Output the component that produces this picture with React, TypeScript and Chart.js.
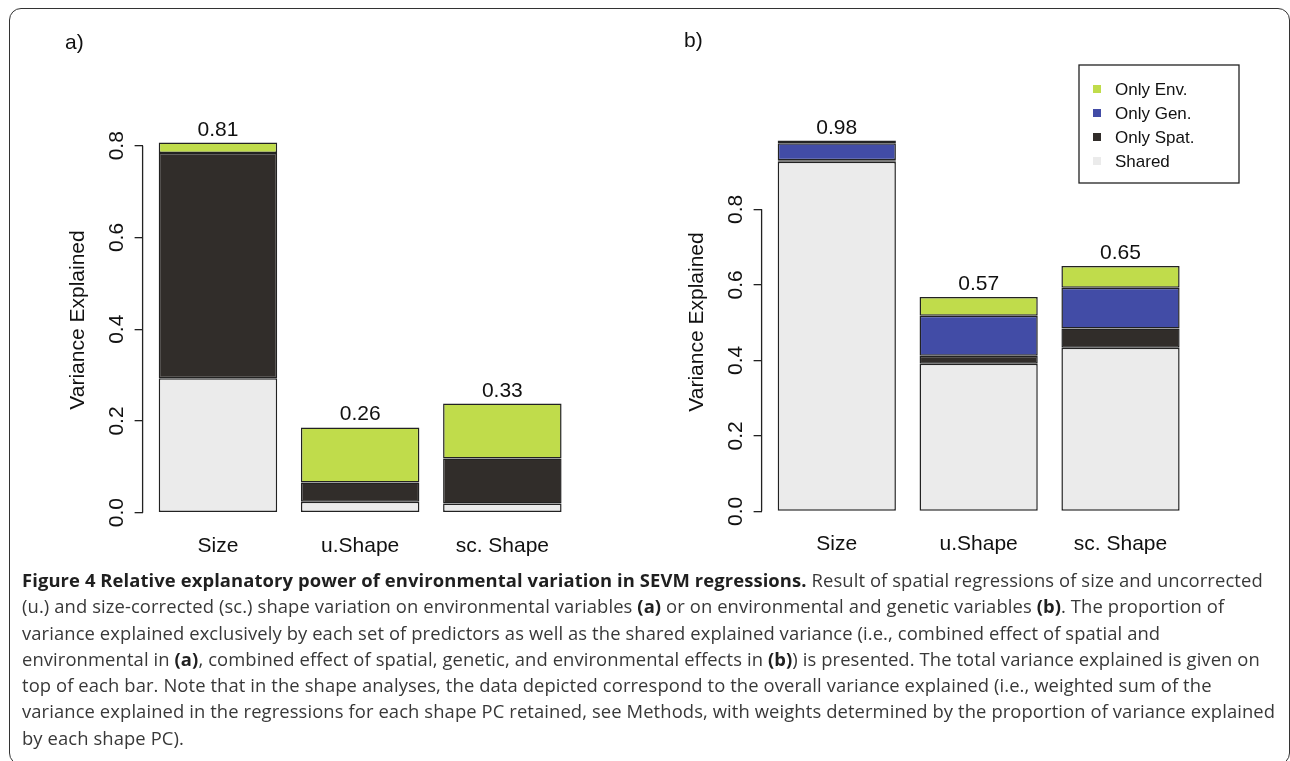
import React, { useEffect, useRef } from 'react';
import { Chart, registerables } from 'chart.js';

Chart.register(...registerables);

// ---------- data ----------
const categories = ['Size', 'u.Shape', 'sc. Shape'];
const yTickStep = 0.2;

// panel a) spatial + environmental
const sharedA = [0.293, 0.024, 0.02];
const spatA = [0.491, 0.042, 0.098];
const envA = [0.023, 0.12, 0.12];
const totalLabelsA = ['0.81', '0.26', '0.33'];

// panel b) spatial + genetic + environmental
const sharedB = [0.926, 0.391, 0.433];
const spatB = [0.004, 0.021, 0.051];
const genB = [0.045, 0.106, 0.108];
const envB = [0.007, 0.05, 0.058];
const totalLabelsB = ['0.98', '0.57', '0.65'];

const legendLabels = ['Only Env.', 'Only Gen.', 'Only Spat.', 'Shared'];

// ---------- style ----------
const C_ENV = '#c0dc4b';
const C_GEN = '#424ca6';
const C_SPAT = '#312d2a';
const C_SHARED = '#ebebeb';
const C_BORDER = '#222222';
const C_TEXT = '#111111';
const FONT = '"Liberation Sans", Arial, sans-serif';

// R barplot layout: bar width 1, space 0.2
const barPos = (i: number) => 0.7 + 1.2 * i;
const X_MIN = 0.2 - 0.136;
const X_MAX = 3.6 + 0.136;

const toPoints = (vals: number[]) => vals.map((v, i) => ({ x: barPos(i), y: v }));

type PanelOpts = {
  letter: string;
  letterX: number;
  letterY: number;
  totals: string[];
  titleY: number;
  legend?: { x: number; y: number; w: number; h: number; colors: string[] };
};

const makePanelPlugin = (o: PanelOpts) => ({
  id: 'rPanel',
  afterDraw(chart: any) {
    const { ctx, chartArea } = chart;
    const x = chart.scales.x;
    const y = chart.scales.y;
    ctx.save();
    ctx.fillStyle = C_TEXT;
    ctx.strokeStyle = C_BORDER;
    // y axis line (from first to last tick, R style)
    const ticks = y.ticks;
    const pTop = y.getPixelForValue(ticks[ticks.length - 1].value);
    const pBot = y.getPixelForValue(ticks[0].value);
    ctx.lineWidth = 1.3;
    ctx.beginPath();
    ctx.moveTo(chartArea.left, pTop);
    ctx.lineTo(chartArea.left, pBot);
    ctx.stroke();
    // y tick labels (rotated)
    ctx.font = `21px ${FONT}`;
    ctx.textAlign = 'center';
    ctx.textBaseline = 'alphabetic';
    ticks.forEach((t: any) => {
      const py = y.getPixelForValue(t.value);
      ctx.save();
      ctx.translate(chartArea.left - 20, py);
      ctx.rotate(-Math.PI / 2);
      ctx.fillText(Number(t.value).toFixed(1), 0, 0);
      ctx.restore();
    });
    // y title
    ctx.save();
    ctx.translate(chartArea.left - 59, o.titleY);
    ctx.rotate(-Math.PI / 2);
    ctx.fillText('Variance Explained', 0, 0);
    ctx.restore();
    // category labels and totals
    const datasets = chart.data.datasets;
    categories.forEach((c, i) => {
      const px = x.getPixelForValue(barPos(i));
      ctx.fillText(c, px, chartArea.bottom + 39);
      let total = 0;
      datasets.forEach((d: any) => (total += d.data[i].y));
      ctx.fillText(o.totals[i], px, y.getPixelForValue(total) - 7);
    });
    // panel letter
    ctx.textAlign = 'left';
    ctx.fillText(o.letter, o.letterX, o.letterY);
    // legend
    if (o.legend) {
      const L = o.legend;
      ctx.lineWidth = 1.3;
      ctx.strokeRect(L.x, L.y, L.w, L.h);
      ctx.font = `17px ${FONT}`;
      ctx.textBaseline = 'middle';
      legendLabels.forEach((lab, i) => {
        const cy = L.y + 24 + 24 * i;
        ctx.fillStyle = L.colors[i];
        ctx.fillRect(L.x + 14, cy - 4, 8, 8);
        ctx.fillStyle = C_TEXT;
        ctx.fillText(lab, L.x + 36, cy + 1);
      });
    }
    ctx.restore();
  },
});

const baseOptions = (pad: any, yMax: number, yWidth: number, xHeight: number) => ({
  responsive: false,
  animation: false,
  layout: { padding: pad },
  plugins: { legend: { display: false }, tooltip: { enabled: false } },
  datasets: {
    bar: {
      categoryPercentage: 1,
      barPercentage: 1 / 1.2,
      borderWidth: 1.5,
      borderColor: C_BORDER,
      borderSkipped: false,
    },
  },
  scales: {
    x: {
      type: 'linear',
      stacked: true,
      offset: false,
      min: X_MIN,
      max: X_MAX,
      grid: { display: false, offset: false },
      border: { display: false },
      ticks: { display: false },
      afterBuildTicks: (s: any) => {
        s.ticks = categories.map((_, i) => ({ value: barPos(i) }));
      },
      afterFit: (s: any) => {
        s.height = xHeight;
      },
    },
    y: {
      type: 'linear',
      stacked: true,
      min: 0,
      max: yMax,
      ticks: { display: false, stepSize: yTickStep, includeBounds: false },
      grid: { drawOnChartArea: false, drawTicks: true, tickLength: 8, color: C_BORDER, lineWidth: 1.3 },
      border: { display: false },
      afterFit: (s: any) => {
        s.width = yWidth;
      },
    },
  },
});

function PanelA() {
  const ref = useRef<HTMLCanvasElement>(null);
  useEffect(() => {
    const chart = new Chart(ref.current as HTMLCanvasElement, {
      type: 'bar',
      data: {
        datasets: [
          { label: 'Shared', data: toPoints(sharedA), backgroundColor: C_SHARED },
          { label: 'Only Spat.', data: toPoints(spatA), backgroundColor: C_SPAT },
          { label: 'Only Env.', data: toPoints(envA), backgroundColor: C_ENV },
        ],
      } as any,
      options: baseOptions({ left: 0, right: 82.3, top: 99.9, bottom: 0 }, 0.9, 142.6, 57.3) as any,
      plugins: [makePanelPlugin({ letter: 'a)', letterX: 65, letterY: 49, totals: totalLabelsA, titleY: 320 })],
    });
    return () => chart.destroy();
  }, []);
  return <canvas ref={ref} width={660} height={570} style={{ position: 'absolute', left: 0, top: 0 }} />;
}

function PanelB() {
  const ref = useRef<HTMLCanvasElement>(null);
  useEffect(() => {
    const chart = new Chart(ref.current as HTMLCanvasElement, {
      type: 'bar',
      data: {
        datasets: [
          { label: 'Shared', data: toPoints(sharedB), backgroundColor: C_SHARED },
          { label: 'Only Spat.', data: toPoints(spatB), backgroundColor: C_SPAT },
          { label: 'Only Gen.', data: toPoints(genB), backgroundColor: C_GEN },
          { label: 'Only Env.', data: toPoints(envB), backgroundColor: C_ENV },
        ],
      } as any,
      options: baseOptions({ left: 0, right: 94.3, top: 137.6, bottom: 0 }, 0.99, 101.6, 58.7) as any,
      plugins: [
        makePanelPlugin({
          letter: 'b)',
          letterX: 24,
          letterY: 47,
          totals: totalLabelsB,
          titleY: 322,
          legend: { x: 419, y: 65, w: 160, h: 118, colors: [C_ENV, C_GEN, C_SPAT, C_SHARED] },
        }),
      ],
    });
    return () => chart.destroy();
  }, []);
  return <canvas ref={ref} width={630} height={570} style={{ position: 'absolute', left: 660, top: 0 }} />;
}

const B = ({ children }: { children: React.ReactNode }) => (
  <b style={{ fontWeight: 700, color: '#1f1f1f' }}>{children}</b>
);

export default function App() {
  return (
    <div
      style={{
        position: 'fixed',
        left: 0,
        top: 0,
        width: 1290,
        height: 761,
        overflow: 'hidden',
        background: '#fff',
      }}
    >
      <div
        style={{
          position: 'absolute',
          left: 9,
          top: 8,
          width: 1281,
          height: 757,
          boxSizing: 'border-box',
          border: '1.5px solid #333',
          borderRadius: 12,
        }}
      />
      <PanelA />
      <PanelB />
      <div
        style={{
          position: 'absolute',
          left: 22,
          top: 567,
          whiteSpace: 'nowrap',
          fontFamily: '"Open Sans", sans-serif',
          fontSize: 18.4,
          letterSpacing: '0.1px',
          lineHeight: '26.3px',
          color: '#383838',
        }}
      >
        <B>Figure 4 Relative explanatory power of environmental variation in SEVM regressions.</B> Result of spatial
        regressions of size and uncorrected
        <br />
        (u.) and size-corrected (sc.) shape variation on environmental variables <B>(a)</B> or on environmental and
        genetic variables <B>(b)</B>. The proportion of
        <br />
        variance explained exclusively by each set of predictors as well as the shared explained variance (i.e.,
        combined effect of spatial and
        <br />
        environmental in <B>(a)</B>, combined effect of spatial, genetic, and environmental effects in <B>(b)</B>) is
        presented. The total variance explained is given on
        <br />
        top of each bar. Note that in the shape analyses, the data depicted correspond to the overall variance
        explained (i.e., weighted sum of the
        <br />
        variance explained in the regressions for each shape PC retained, see Methods, with weights determined by the
        proportion of variance explained
        <br />
        by each shape PC).
      </div>
    </div>
  );
}
